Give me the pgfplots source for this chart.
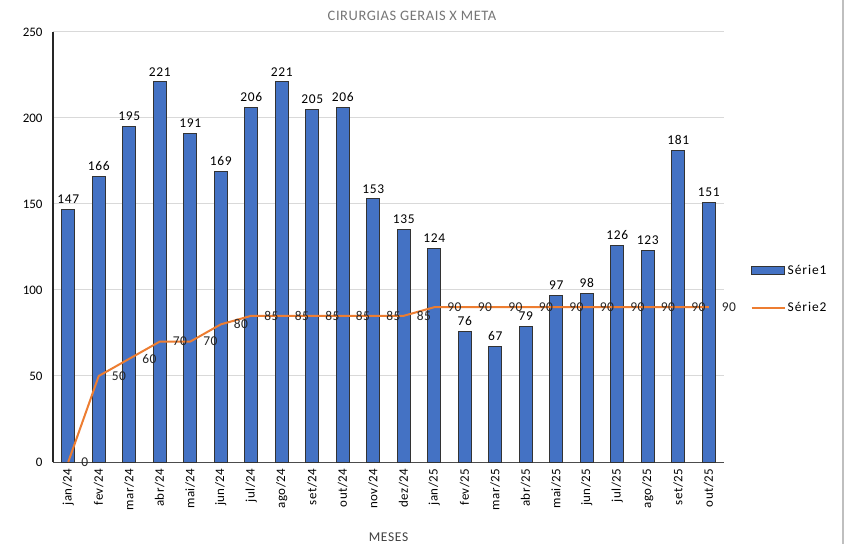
\documentclass[border=0pt]{standalone}
\usepackage{pgfplots}
\pgfplotsset{compat=1.18}
\usepackage{fontspec}
\setmainfont{Carlito}
\definecolor{barblue}{HTML}{4472C4}
\definecolor{lineorange}{HTML}{ED7D31}
\definecolor{gridgray}{HTML}{D9D9D9}
\definecolor{titlegray}{HTML}{767676}
\begin{document}
\begin{tikzpicture}
\useasboundingbox (0bp,0bp) rectangle (846bp,544bp);
\fill[white] (0bp,0bp) rectangle (846bp,544bp);
\draw[gray!50, line width=1.2bp] (843bp,0bp) -- (843bp,544bp);
\begin{axis}[
 at={(53bp,82bp)}, anchor=south west,
 width=671bp, height=430bp, scale only axis,
 xmin=-0.5, xmax=21.5, ymin=0, ymax=250,
 ytick={0,50,...,250},
 xtick={0,...,21},
 xticklabels={jan/24,fev/24,mar/24,abr/24,mai/24,jun/24,jul/24,ago/24,set/24,out/24,nov/24,dez/24,jan/25,fev/25,mar/25,abr/25,mai/25,jun/25,jul/25,ago/25,set/25,out/25},
 x tick label style={rotate=90, anchor=east, font=\fontsize{13}{14}\selectfont\addfontfeature{LetterSpace=4}},
 y tick label style={font=\fontsize{13}{14}\selectfont},
 xticklabel shift=3bp,
 yticklabel shift=7bp,
 /pgf/number format/assume math mode=true,
 major tick length=0pt,
 axis lines*=left,
 x axis line style={draw=black!70, line width=1bp},
 y axis line style={draw=black!85, line width=1.2bp},
 ymajorgrids, grid style={gridgray, line width=1bp},
 title={CIRURGIAS GERAIS X META},
 title style={font=\fontsize{14.5}{15}\selectfont\addfontfeature{LetterSpace=4}, text=titlegray, at={(0.535,1)}, anchor=south, yshift=2bp},
 xlabel={MESES},
 xlabel style={font=\fontsize{13.5}{14}\selectfont\addfontfeature{LetterSpace=5}, text=black!75, yshift=-16bp},
 legend style={at={(1.035,0.402)}, anchor=west, draw=none, fill=none, font=\fontsize{13.5}{14}\selectfont\addfontfeature{LetterSpace=7}, row sep=22bp},
 legend cell align=left,
 clip=false,
]
\addplot[ybar, bar width=13bp, fill=barblue, draw=black!80, line width=0.8bp,
  nodes near coords, every node near coord/.append style={anchor=south, yshift=2bp, text=black, font=\fontsize{13.5}{14}\selectfont\addfontfeature{LetterSpace=5}},
  legend image code/.code={\draw[fill=barblue, draw=black!80, line width=0.8bp] (0bp,-4bp) rectangle (33bp,4bp);}]
coordinates {(0,147) (1,166) (2,195) (3,221) (4,191) (5,169) (6,206) (7,221) (8,205) (9,206) (10,153) (11,135) (12,124) (13,76) (14,67) (15,79) (16,97) (17,98) (18,126) (19,123) (20,181) (21,151)};
\addlegendentry{Série1}
\addplot[lineorange, line width=2bp, mark=none,
  nodes near coords, every node near coord/.append style={anchor=west, xshift=11bp, inner sep=1bp, text=black!85, font=\fontsize{13.5}{14}\selectfont\addfontfeature{LetterSpace=5}},
  legend image code/.code={\draw[lineorange, line width=2bp] (0bp,0bp) -- (33bp,0bp);}]
coordinates {(0,0) (1,50) (2,60) (3,70) (4,70) (5,80) (6,85) (7,85) (8,85) (9,85) (10,85) (11,85) (12,90) (13,90) (14,90) (15,90) (16,90) (17,90) (18,90) (19,90) (20,90) (21,90)};
\addlegendentry{Série2}
\end{axis}
\end{tikzpicture}
\end{document}
